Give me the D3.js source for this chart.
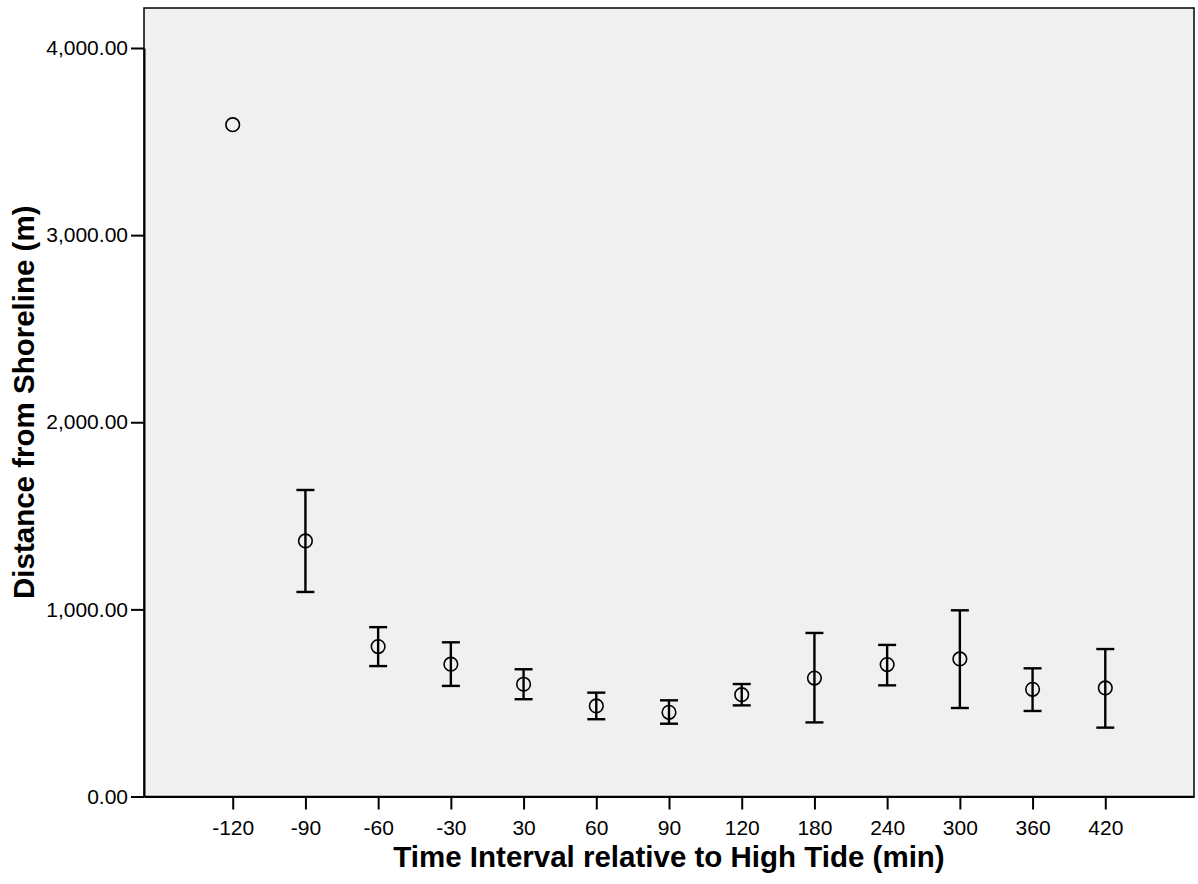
<!DOCTYPE html>
<html>
<head>
<meta charset="utf-8">
<script src="https://cdn.jsdelivr.net/npm/d3@7"></script>
<style>
  html, body { margin: 0; padding: 0; background: #fff; }
  svg { display: block; }
  text { font-family: "Liberation Sans", Arial, sans-serif; fill: #000; }
</style>
</head>
<body>
<svg id="chart" width="1198" height="884"></svg>
<script>
// Time intervals relative to high tide (min)
const intervals = ["-120", "-90", "-60", "-30", "30", "60", "90", "120", "180", "240", "300", "360", "420"];
// Mean distance from shoreline (m)
const meanDist = [3590, 1366, 801, 707, 600, 484, 450, 544, 633, 705, 735, 573, 580];
// Error bar bounds (m); null where no bar is drawn
const lowerDist = [null, 1093, 697, 591, 520, 413, 389, 487, 396, 594, 473, 457, 368];
const upperDist = [null, 1638, 905, 824, 680, 555, 514, 601, 874, 810, 995, 685, 788];
// Y axis tick values
const yTicks = [0, 1000, 2000, 3000, 4000];

const svg = d3.select("#chart");
const plot = { left: 144, right: 1194, top: 8, bottom: 796.5 };
const FONT = "Liberation Sans, Arial, sans-serif";

const x = d3.scalePoint()
  .domain(intervals)
  .range([plot.left, plot.right])
  .padding(1.22);

const y = d3.scaleLinear()
  .domain([0, 4000])
  .range([plot.bottom, 48]);

// Plot background and frame
svg.append("rect")
  .attr("x", plot.left)
  .attr("y", plot.top)
  .attr("width", plot.right - plot.left)
  .attr("height", plot.bottom - plot.top)
  .attr("fill", "#f0f0f0")
  .attr("stroke", "#000")
  .attr("stroke-width", 1.5);

// Y axis
const yAxis = svg.append("g")
  .attr("transform", `translate(${plot.left},0)`)
  .call(d3.axisLeft(y).tickValues(yTicks).tickSize(13).tickSizeOuter(0).tickPadding(3)
    .tickFormat(d3.format(",.2f")));
yAxis.select(".domain").attr("stroke", "#000").attr("stroke-width", 2);
yAxis.selectAll(".tick line").attr("stroke", "#000").attr("stroke-width", 2);
yAxis.selectAll(".tick text").attr("font-size", 21).attr("font-family", FONT);

// X axis
const xAxis = svg.append("g")
  .attr("transform", `translate(0,${plot.bottom})`)
  .call(d3.axisBottom(x).tickSize(13).tickSizeOuter(0).tickPadding(11));
xAxis.select(".domain").attr("stroke", "#000").attr("stroke-width", 2);
xAxis.selectAll(".tick line").attr("stroke", "#000").attr("stroke-width", 2);
xAxis.selectAll(".tick text").attr("font-size", 21).attr("font-family", FONT);

// Error bars
const rows = intervals.map((k, i) => ({ k, m: meanDist[i], lo: lowerDist[i], hi: upperDist[i] }));
const bars = svg.append("g").selectAll("g")
  .data(rows.filter(d => d.lo !== null))
  .join("g")
  .attr("stroke", "#000")
  .attr("stroke-width", 2.4);
bars.append("line")
  .attr("x1", d => x(d.k)).attr("x2", d => x(d.k))
  .attr("y1", d => y(d.hi)).attr("y2", d => y(d.lo));
bars.append("line")
  .attr("x1", d => x(d.k) - 9).attr("x2", d => x(d.k) + 9)
  .attr("y1", d => y(d.hi)).attr("y2", d => y(d.hi));
bars.append("line")
  .attr("x1", d => x(d.k) - 9).attr("x2", d => x(d.k) + 9)
  .attr("y1", d => y(d.lo)).attr("y2", d => y(d.lo));

// Mean markers
svg.append("g").selectAll("circle")
  .data(rows)
  .join("circle")
  .attr("cx", d => x(d.k))
  .attr("cy", d => y(d.m))
  .attr("r", 6.8)
  .attr("fill", "none")
  .attr("stroke", "#000")
  .attr("stroke-width", 1.6);

// Axis titles
svg.append("text")
  .attr("x", (plot.left + plot.right) / 2)
  .attr("y", 867)
  .attr("text-anchor", "middle")
  .attr("font-size", 29.5)
  .attr("font-weight", "bold")
  .text("Time Interval relative to High Tide (min)");

svg.append("text")
  .attr("transform", `translate(34,${(plot.top + plot.bottom) / 2}) rotate(-90)`)
  .attr("text-anchor", "middle")
  .attr("font-size", 29.5)
  .attr("font-weight", "bold")
  .text("Distance from Shoreline (m)");
</script>
</body>
</html>
